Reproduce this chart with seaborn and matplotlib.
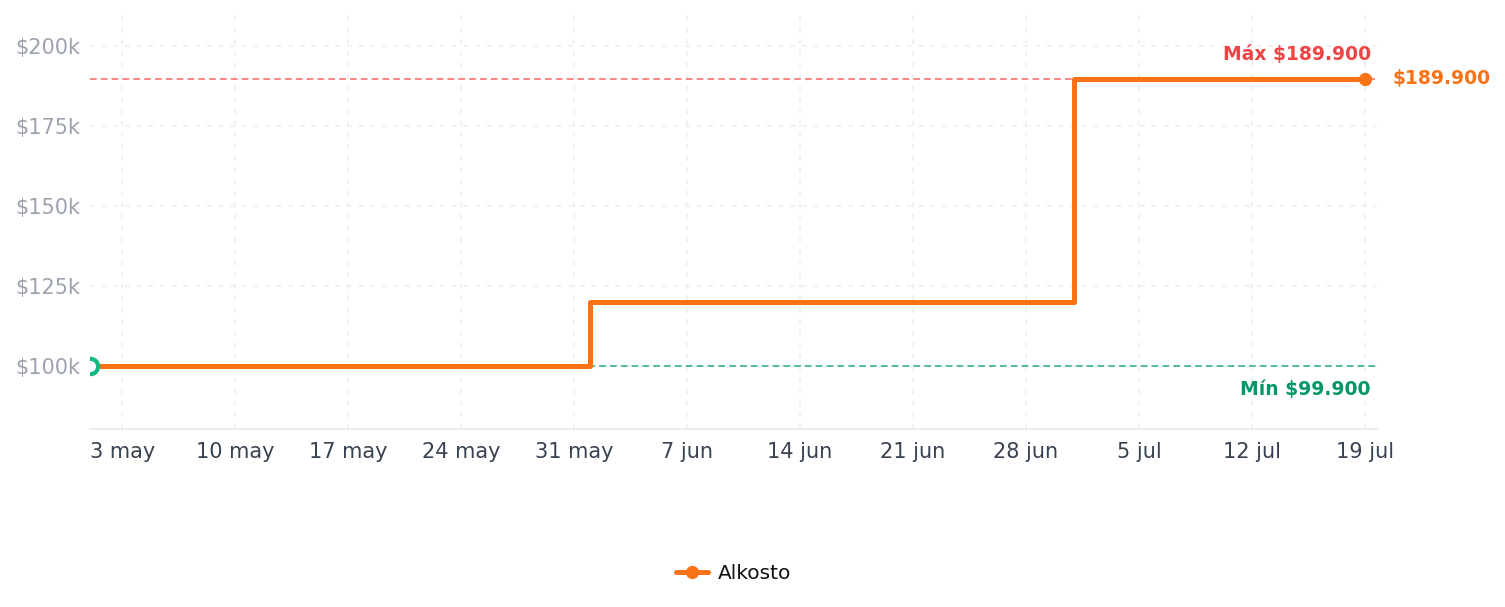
import pandas as pd
import matplotlib.pyplot as plt
import matplotlib.ticker as mticker
from matplotlib.lines import Line2D
import seaborn as sns

# datos
fechas = ['2025-05-01', '2025-06-01', '2025-07-01', '2025-07-19']
precios = [99900, 119900, 189900, 189900]
tienda = 'Alkosto'

tick_fechas = pd.date_range('2025-05-03', periods=12, freq='7D')
tick_labels = ['3 may', '10 may', '17 may', '24 may', '31 may', '7 jun',
               '14 jun', '21 jun', '28 jun', '5 jul', '12 jul', '19 jul']
y_ticks = [100000, 125000, 150000, 175000, 200000]

precio_max = 189900
precio_min = 99900

df = pd.DataFrame({'fecha': pd.to_datetime(fechas), 'precio': precios})

NARANJA = '#f97316'
ROJO = '#ef4444'
VERDE = '#059669'

sns.set_style('white')
plt.rcParams['font.family'] = ['DejaVu Sans']

fig = plt.figure(figsize=(15.05, 6.07), dpi=100)
ax = fig.add_axes([0.0598, 0.2932, 0.855, 0.6818])

# línea principal escalonada
sns.lineplot(data=df, x='fecha', y='precio', ax=ax, color=NARANJA,
             linewidth=3.6, drawstyle='steps-post', zorder=4)

# líneas de máximo y mínimo
ax.axhline(precio_max, color='#f87171', linestyle=(0, (4, 2.5)), linewidth=1.2, zorder=2)
ax.axhline(precio_min, color='#34b38a', linestyle=(0, (4, 2.5)), linewidth=1.2, zorder=2)

# marcador del último precio
ax.plot(df['fecha'].iloc[-1], df['precio'].iloc[-1], 'o', color=NARANJA,
        markersize=8.5, zorder=5)
# marcador del mínimo (inicio)
ax.plot(df['fecha'].iloc[0], df['precio'].iloc[0], 'o', color='#10b981',
        markerfacecolor='white', markersize=11, markeredgewidth=3, zorder=6)

x0 = df['fecha'].iloc[0]
x1 = df['fecha'].iloc[-1] + pd.Timedelta(hours=17.8)
ax.set_xlim(x0, x1)
ax.set_ylim(80300, 209700)

ax.annotate('Máx $189.900', xy=(x1, precio_max), xytext=(-6, 15),
            textcoords='offset pixels', ha='right', va='bottom',
            color=ROJO, fontsize=13.5, fontweight='bold')
ax.annotate('Mín $99.900', xy=(x1, precio_min), xytext=(-6, -14),
            textcoords='offset pixels', ha='right', va='top',
            color=VERDE, fontsize=13.5, fontweight='bold')
ax.annotate('$189.900', xy=(df['fecha'].iloc[-1], precios[-1]), xytext=(28, 0),
            textcoords='offset pixels', ha='left', va='center',
            color=NARANJA, fontsize=13.5, fontweight='bold', annotation_clip=False)

ax.set_xticks(tick_fechas)
ax.set_xticklabels(tick_labels)
ax.set_yticks(y_ticks)
ax.yaxis.set_major_formatter(mticker.FuncFormatter(lambda v, p: f'${v/1000:.0f}k'))

ax.tick_params(axis='x', length=0, pad=9, labelsize=15, labelcolor='#374151')
ax.tick_params(axis='y', length=0, pad=7, labelsize=15, labelcolor='#9ca3af')
ax.grid(True, color='#efefef', linestyle=(0, (3, 4)), linewidth=1.2, zorder=0)
ax.set_axisbelow(True)
ax.set_xlabel('')
ax.set_ylabel('')

for s in ['top', 'right', 'left']:
    ax.spines[s].set_visible(False)
ax.spines['bottom'].set_color('#e5e7eb')
ax.spines['bottom'].set_linewidth(1.2)

handle = Line2D([0], [0], color=NARANJA, linewidth=3.6, marker='o', markersize=8.5)
leg = ax.legend([handle], [tienda], loc='center', bbox_to_anchor=(0.5, -0.35),
                frameon=False, fontsize=14.5, handlelength=1.6, handletextpad=0.5)
for t in leg.get_texts():
    t.set_color('#111111')

fig.savefig('out.png', dpi=100)
